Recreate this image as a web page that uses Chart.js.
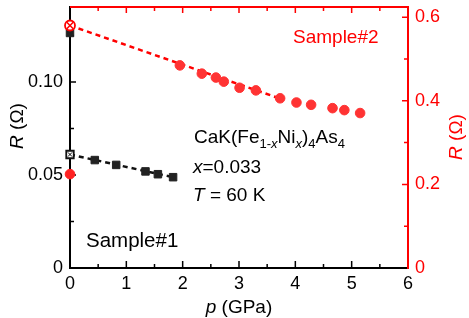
<!DOCTYPE html>
<html><head><meta charset="utf-8">
<script src="https://cdn.jsdelivr.net/npm/chart.js@4.4.0/dist/chart.umd.min.js"></script>
<style>html,body{margin:0;padding:0;background:#fff;}canvas{display:block;}</style>
</head><body>
<canvas id="c" width="469" height="318"></canvas>
<script>
// ---- data ----
const s1Pressure = [0.44, 0.82, 1.34, 1.56, 1.83];
const s1Resistance = [0.0580, 0.0554, 0.0519, 0.0504, 0.0488];
const s1OpenPressure = [0];
const s1OpenResistance = [0.0610];
const s1TopPressure = [0];
const s1TopResistance = [0.1263];
const s2Pressure = [1.95, 2.34, 2.59, 2.73, 3.01, 3.30, 3.73, 4.02, 4.28, 4.66, 4.87, 5.15];
const s2Resistance = [0.4846, 0.4648, 0.4555, 0.4457, 0.4311, 0.4248, 0.4059, 0.3958, 0.3903, 0.3823, 0.3776, 0.3706];
const s2OpenPressure = [0];
const s2OpenResistance = [0.580];
const s2AmbientPressure = [0];
const s2AmbientResistance = [0.2245];
const fitS1Pressure = [0, 1.83];
const fitS1Resistance = [0.0610, 0.0488];
const fitS2Pressure = [0, 3.7];
const fitS2Resistance = [0.580, 0.4065];
const xTicks = [0, 1, 2, 3, 4, 5, 6];
const xTickLabels = ["0", "1", "2", "3", "4", "5", "6"];
const xMinorTicks = [0.5, 1.5, 2.5, 3.5, 4.5, 5.5];
const yLeftTicks = [0, 0.05, 0.10];
const yLeftTickLabels = ["0", "0.05", "0.10"];
const yLeftMinorTicks = [0.025, 0.075, 0.125];
const yRightTicks = [0, 0.2, 0.4, 0.6];
const yRightTickLabels = ["0", "0.2", "0.4", "0.6"];
const yRightMinorTicks = [0.1, 0.3, 0.5];

const RED = '#ff0000';
const FONT = 'Liberation Sans, Arial, Helvetica, sans-serif';
const pts = (xs, ys) => xs.map((x, i) => ({x: x, y: ys[i]}));

const inwardTicks = {
  id: 'inwardTicks',
  beforeDatasetsDraw(chart) {
    const c = chart.ctx, a = chart.chartArea;
    const x = chart.scales.x, yl = chart.scales.y, yr = chart.scales.y2;
    c.save();
    c.lineWidth = 1.5;
    // top border (red)
    c.strokeStyle = RED;
    c.lineWidth = 2;
    c.beginPath(); c.moveTo(a.left, a.top); c.lineTo(a.right, a.top); c.stroke();
    c.lineWidth = 1.5;
    const tick = (color, list, len, fn) => {
      c.strokeStyle = color; c.beginPath();
      list.forEach(v => fn(v, len)); c.stroke();
    };
    // bottom
    const bx = (v, l) => { const p = x.getPixelForValue(v); c.moveTo(p, a.bottom); c.lineTo(p, a.bottom - l); };
    tick('#000', xTicks.slice(1, -1), 7, bx);
    tick('#000', xMinorTicks, 4, bx);
    // top
    const tx = (v, l) => { const p = x.getPixelForValue(v); c.moveTo(p, a.top); c.lineTo(p, a.top + l); };
    tick(RED, xTicks.slice(1, -1), 6, tx);
    tick(RED, xMinorTicks, 4, tx);
    // left
    const ly = (v, l) => { const p = yl.getPixelForValue(v); c.moveTo(a.left, p); c.lineTo(a.left + l, p); };
    tick('#000', yLeftTicks.slice(1), 6, ly);
    tick('#000', yLeftMinorTicks, 4, ly);
    // right
    const ry = (v, l) => { const p = yr.getPixelForValue(v); c.moveTo(a.right, p); c.lineTo(a.right - l, p); };
    tick(RED, yRightTicks.slice(1), 6, ry);
    tick(RED, yRightMinorTicks, 4, ry);
    c.restore();
  },
  afterDraw(chart) {
    const c = chart.ctx, a = chart.chartArea;
    c.save();
    c.textBaseline = 'alphabetic';
    const seq = (x0, y0, parts) => {
      let x = x0;
      parts.forEach(p => {
        c.font = (p.i ? 'italic ' : '') + p.s + 'px ' + FONT;
        c.fillText(p.t, x, y0 + (p.dy || 0));
        x += c.measureText(p.t).width;
      });
    };
    const seqWidth = (parts) => {
      let w = 0;
      parts.forEach(p => { c.font = (p.i ? 'italic ' : '') + p.s + 'px ' + FONT; w += c.measureText(p.t).width; });
      return w;
    };
    // x axis title
    c.fillStyle = '#000';
    const xt = [{t: 'p', i: true, s: 19}, {t: ' (GPa)', s: 19}];
    seq((a.left + a.right) / 2 - seqWidth(xt) / 2, 313, xt);
    // left title
    const yt = [{t: 'R', i: true, s: 19}, {t: ' (Ω)', s: 19}];
    c.save(); c.translate(23, 126); c.rotate(-Math.PI / 2);
    seq(-seqWidth(yt) / 2, 0, yt); c.restore();
    // right title
    c.fillStyle = RED;
    c.save(); c.translate(462, 137); c.rotate(-Math.PI / 2);
    seq(-seqWidth(yt) / 2, 0, yt); c.restore();
    // annotations
    c.fillStyle = RED;
    seq(293, 43, [{t: 'Sample#2', s: 19}]);
    c.fillStyle = '#000';
    seq(86, 247, [{t: 'Sample#1', s: 20.5}]);
    seq(194, 143, [
      {t: 'CaK(Fe', s: 19}, {t: '1-', s: 13, dy: 5}, {t: 'x', s: 13, dy: 5, i: true},
      {t: 'Ni', s: 19}, {t: 'x', s: 13, dy: 5, i: true}, {t: ')', s: 19},
      {t: '4', s: 13, dy: 5}, {t: 'As', s: 19}, {t: '4', s: 13, dy: 5}
    ]);
    seq(193, 173, [{t: 'x', s: 19, i: true}, {t: '=0.033', s: 19}]);
    seq(193, 201, [{t: 'T', s: 19, i: true}, {t: ' = 60 K', s: 19}]);
    c.restore();
  }
};

const tickFont = {family: FONT, size: 18};
new Chart(document.getElementById('c'), {
  type: 'scatter',
  data: {
    datasets: [
      {data: pts(s2OpenPressure, s2OpenResistance), yAxisID: 'y2', pointStyle: 'crossRot', pointRadius: 4.5, borderColor: RED, borderWidth: 1.5, clip: false},
      {data: pts(s2OpenPressure, s2OpenResistance), yAxisID: 'y2', pointStyle: 'circle', pointRadius: 5, backgroundColor: '#fff', borderColor: RED, borderWidth: 1.8, clip: false},
      {data: pts(s1TopPressure, s1TopResistance), yAxisID: 'y', pointStyle: 'rect', pointRadius: 5.3, backgroundColor: '#222', borderColor: '#222', borderWidth: 1, clip: false},
      {data: pts(s1OpenPressure, s1OpenResistance), yAxisID: 'y', pointStyle: 'crossRot', pointRadius: 3, borderColor: '#000', borderWidth: 1, clip: false},
      {data: pts(s1OpenPressure, s1OpenResistance), yAxisID: 'y', pointStyle: 'rect', pointRadius: 5.3, backgroundColor: '#fff', borderColor: '#111', borderWidth: 1.8, clip: false},
      {data: pts(s2Pressure, s2Resistance), yAxisID: 'y2', pointStyle: 'circle', pointRadius: 4.8, backgroundColor: '#f33', borderColor: '#f33', borderWidth: 1, clip: false},
      {data: pts(s1Pressure, s1Resistance), yAxisID: 'y', pointStyle: 'rect', pointRadius: 5.3, backgroundColor: '#222', borderColor: '#222', borderWidth: 1, clip: false},
      {data: pts(s2AmbientPressure, s2AmbientResistance), yAxisID: 'y2', pointStyle: 'circle', pointRadius: 4.8, backgroundColor: '#f22', borderColor: '#f22', borderWidth: 1, clip: false},
      {data: pts(fitS2Pressure, fitS2Resistance), yAxisID: 'y2', showLine: true, pointRadius: 0, borderColor: RED, borderWidth: 2.5, borderDash: [5, 4], clip: false},
      {data: pts(fitS1Pressure, fitS1Resistance), yAxisID: 'y', showLine: true, pointRadius: 0, borderColor: '#111', borderWidth: 2.5, borderDash: [5, 4], clip: false}
    ]
  },
  options: {
    responsive: false, animation: false, devicePixelRatio: 1,
    layout: {padding: {top: 3, left: 0, right: 0, bottom: 0}},
    plugins: {legend: {display: false}, tooltip: {enabled: false}},
    elements: {point: {hoverRadius: 0}},
    scales: {
      x: {
        type: 'linear', position: 'bottom', min: 0, max: 6,
        afterBuildTicks: s => { s.ticks = xTicks.map(v => ({value: v})); },
        afterFit: s => { s.height = 50; s.paddingLeft = 0; s.paddingRight = 0; },
        grid: {display: false, drawTicks: false},
        border: {display: true, color: '#000', width: 2},
        ticks: {padding: 5, color: '#000', font: tickFont, maxRotation: 0, autoSkip: false,
          callback: (v, i) => xTickLabels[i]}
      },
      y: {
        type: 'linear', position: 'left', min: 0, max: 0.1402,
        afterBuildTicks: s => { s.ticks = yLeftTicks.map(v => ({value: v})); },
        afterFit: s => { s.width = 70; s.paddingTop = 0; s.paddingBottom = 0; },
        grid: {display: false, drawTicks: false},
        border: {display: true, color: '#000', width: 2},
        ticks: {padding: 7, color: '#000', font: tickFont, autoSkip: false,
          callback: (v, i) => yLeftTickLabels[i]}
      },
      y2: {
        type: 'linear', position: 'right', min: 0, max: 0.624,
        afterBuildTicks: s => { s.ticks = yRightTicks.map(v => ({value: v})); },
        afterFit: s => { s.width = 61; s.paddingTop = 0; s.paddingBottom = 0; },
        grid: {display: false, drawTicks: false},
        border: {display: true, color: RED, width: 2},
        ticks: {padding: 7, color: RED, font: tickFont, autoSkip: false,
          callback: (v, i) => yRightTickLabels[i]}
      }
    }
  },
  plugins: [inwardTicks]
});
</script>
</body></html>
